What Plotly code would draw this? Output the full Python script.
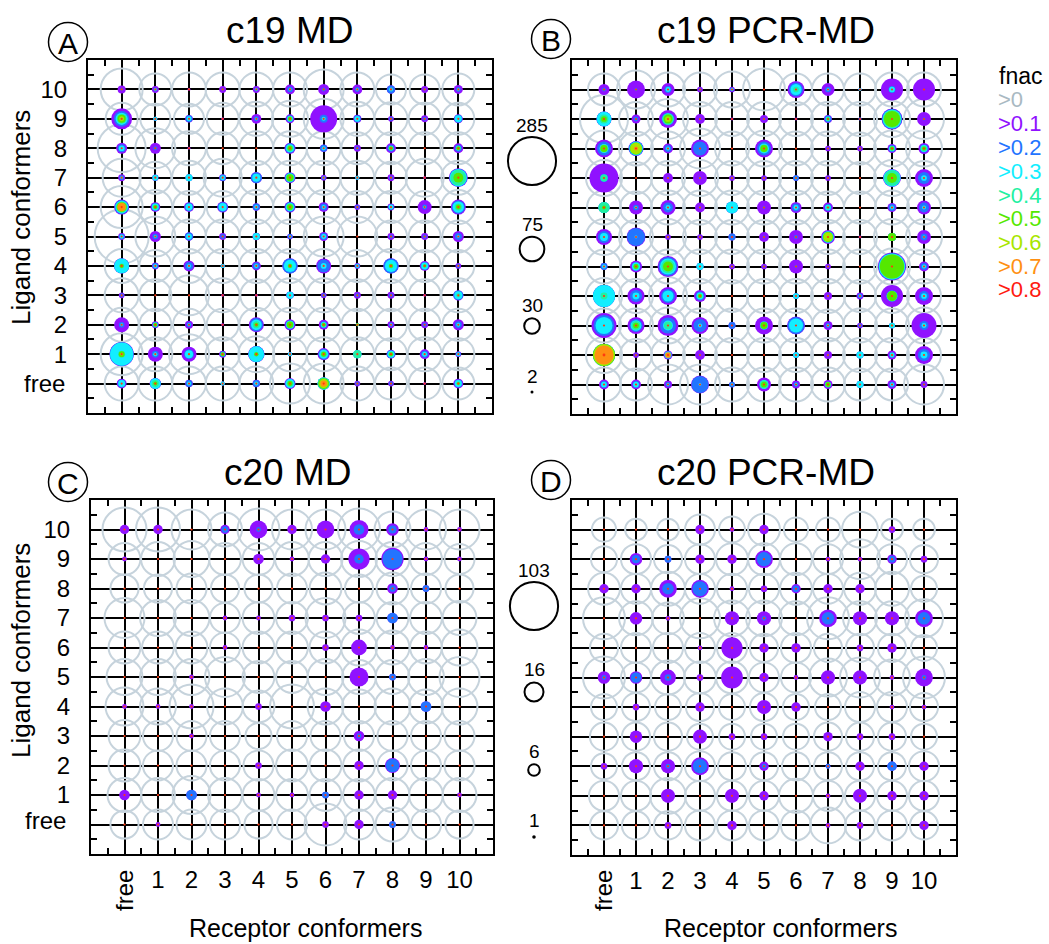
import numpy as np
import plotly.graph_objects as go

W, H = 1049, 944
FONT = "Liberation Sans, Arial, sans-serif"

receptor_labels = ["free"] + [str(i) for i in range(1, 11)]
ligand_labels = ["free"] + [str(i) for i in range(1, 11)]
row_ligand = list(range(10, -1, -1))  # matrix rows: ligand 10 ... free; columns: receptor free ... 10

fnac_labels = [">0", ">0.1", ">0.2", ">0.3", ">0.4", ">0.5", ">0.6", ">0.7", ">0.8"]
fnac_colors = ["#a9b9c2", "#9012ff", "#2374ff", "#12eeff", "#22f0a2", "#55e800", "#a8e600", "#ff9012", "#ff1a10"]
ring_color = "#c6d3dc"

panel_titles = ["c19 MD", "c19 PCR-MD", "c20 MD", "c20 PCR-MD"]
panel_letters = ["A", "B", "C", "D"]
size_legend_c19 = [285, 75, 30, 2]
size_legend_c20 = [103, 16, 6, 1]

# ---------------- c19 MD (counts of structures per fnac threshold) ----------------
c19md_gt0 = [
    [217, 126, 142, 142, 142, 142, 197, 142, 111, 111, 126],
    [126, 111, 111, 126, 142, 160, 197, 142, 134, 126, 126],
    [284, 197, 142, 126, 142, 142, 142, 126, 126, 126, 126],
    [178, 126, 142, 178, 142, 142, 142, 142, 126, 178, 142],
    [217, 142, 126, 126, 142, 142, 142, 126, 126, 126, 142],
    [359, 197, 142, 142, 142, 142, 197, 197, 126, 126, 126],
    [142, 126, 142, 142, 142, 142, 142, 126, 142, 126, 126],
    [142, 126, 197, 142, 126, 142, 142, 126, 126, 126, 142],
    [142, 126, 126, 126, 142, 142, 142, 126, 126, 126, 126],
    [217, 142, 197, 142, 160, 142, 142, 142, 126, 142, 126],
    [142, 142, 142, 142, 142, 197, 197, 142, 126, 126, 126],
]
c19md_gt01 = [
    [8, 6, 1, 6, 6, 12, 15, 12, 9, 6, 10],
    [54, 2, 7, 1, 12, 10, 90, 8, 4, 6, 10],
    [15, 15, 1, 0, 0, 15, 7, 6, 12, 0, 12],
    [6, 5, 6, 6, 16, 15, 4, 2, 6, 1, 44],
    [28, 12, 12, 15, 7, 15, 12, 4, 6, 24, 28],
    [6, 15, 9, 6, 7, 4, 10, 0, 6, 6, 15],
    [29, 6, 15, 2, 10, 29, 28, 4, 29, 12, 4],
    [4, 0, 0, 1, 1, 7, 4, 6, 6, 1, 13],
    [28, 6, 8, 1, 28, 15, 12, 1, 6, 6, 15],
    [72, 28, 28, 6, 33, 2, 18, 8, 10, 12, 4],
    [12, 16, 7, 2, 7, 15, 19, 4, 4, 1, 12],
]
c19md_gt02 = [
    [1, 2, 0, 1, 2, 4, 2, 3, 8, 1, 3],
    [30, 2, 6, 0, 3, 6, 8, 6, 2, 2, 8],
    [8, 2, 0, 0, 0, 12, 6, 2, 6, 0, 6],
    [3, 4, 6, 5, 15, 12, 2, 2, 2, 0, 40],
    [25, 8, 9, 12, 6, 12, 6, 2, 4, 3, 22],
    [4, 4, 8, 3, 6, 3, 6, 0, 2, 2, 6],
    [28, 4, 8, 2, 6, 28, 20, 3, 28, 8, 2],
    [2, 0, 0, 0, 0, 6, 2, 2, 2, 0, 12],
    [4, 4, 3, 0, 22, 10, 6, 1, 2, 2, 6],
    [70, 6, 12, 4, 32, 2, 14, 8, 8, 6, 3],
    [8, 15, 6, 2, 6, 12, 18, 2, 2, 0, 8],
]
c19md_gt03 = [
    [0, 1, 0, 0, 1, 1, 0, 1, 2, 0, 1],
    [18, 2, 3, 0, 1, 4, 2, 4, 0, 0, 6],
    [4, 0, 0, 0, 0, 8, 2, 0, 3, 0, 3],
    [1, 4, 6, 3, 8, 10, 1, 2, 0, 0, 36],
    [20, 6, 6, 8, 2, 9, 2, 0, 3, 1, 16],
    [2, 1, 4, 0, 6, 1, 3, 0, 0, 0, 1],
    [27, 2, 2, 2, 2, 18, 4, 2, 18, 6, 0],
    [0, 0, 0, 0, 0, 6, 0, 0, 0, 0, 8],
    [1, 3, 1, 0, 14, 8, 4, 1, 1, 0, 2],
    [66, 2, 8, 2, 30, 2, 10, 8, 6, 3, 2],
    [6, 14, 2, 2, 2, 10, 18, 0, 0, 0, 6],
]
c19md_gt04 = [
    [0, 0, 0, 0, 0, 0, 0, 0, 0, 0, 0],
    [12, 0, 0, 0, 0, 3, 0, 0, 0, 0, 0],
    [0, 0, 0, 0, 0, 5, 0, 0, 2, 0, 2],
    [0, 0, 0, 0, 0, 8, 0, 0, 0, 0, 30],
    [16, 3, 0, 0, 0, 6, 0, 0, 0, 0, 6],
    [0, 0, 0, 0, 0, 0, 0, 0, 0, 0, 0],
    [3, 0, 0, 0, 0, 3, 0, 0, 3, 2, 0],
    [0, 0, 0, 0, 0, 0, 0, 0, 0, 0, 2],
    [0, 2, 0, 0, 6, 6, 2, 1, 0, 0, 0],
    [6, 0, 0, 2, 3, 0, 4, 8, 3, 0, 0],
    [0, 6, 0, 0, 0, 5, 18, 0, 0, 0, 2],
]
c19md_gt05 = [
    [0, 0, 0, 0, 0, 0, 0, 0, 0, 0, 0],
    [8, 0, 0, 0, 0, 2, 0, 0, 0, 0, 0],
    [0, 0, 0, 0, 0, 3, 0, 0, 2, 0, 2],
    [0, 0, 0, 0, 0, 6, 0, 0, 0, 0, 12],
    [12, 2, 0, 0, 0, 4, 0, 0, 0, 0, 3],
    [0, 0, 0, 0, 0, 0, 0, 0, 0, 0, 0],
    [2, 0, 0, 0, 0, 2, 0, 0, 2, 1, 0],
    [0, 0, 0, 0, 0, 0, 0, 0, 0, 0, 0],
    [0, 2, 0, 0, 2, 5, 2, 1, 0, 0, 0],
    [4, 0, 0, 2, 2, 0, 3, 0, 2, 0, 0],
    [0, 2, 0, 0, 0, 3, 14, 0, 0, 0, 1],
]
# sparse levels: (ligand, receptor, count)
c19md_gt06 = [(9, 0, 3), (6, 0, 10), (1, 0, 1), (0, 6, 10)]
c19md_gt07 = [(6, 0, 8), (0, 6, 5)]
c19md_gt08 = []

# ---------------- c19 PCR-MD ----------------
c19pcr_gt0 = [
    [126, 178, 142, 142, 160, 217, 126, 126, 126, 142, 142],
    [284, 142, 197, 142, 142, 142, 142, 142, 142, 160, 197],
    [160, 142, 142, 197, 142, 160, 142, 142, 126, 160, 160],
    [160, 126, 142, 160, 142, 142, 142, 142, 126, 160, 142],
    [142, 126, 142, 142, 142, 142, 142, 126, 126, 142, 142],
    [160, 142, 160, 142, 142, 142, 142, 142, 142, 160, 160],
    [142, 126, 142, 142, 142, 142, 142, 142, 142, 160, 142],
    [160, 142, 178, 142, 126, 142, 142, 142, 126, 142, 142],
    [142, 142, 160, 142, 142, 142, 142, 126, 142, 142, 160],
    [160, 126, 142, 142, 142, 142, 142, 142, 142, 142, 142],
    [142, 126, 197, 197, 142, 142, 142, 142, 126, 126, 197],
]
c19pcr_gt01 = [
    [15, 40, 21, 4, 4, 0, 36, 21, 1, 60, 60],
    [28, 10, 40, 12, 1, 8, 1, 8, 1, 54, 24],
    [40, 28, 12, 40, 0, 40, 0, 4, 4, 10, 15],
    [104, 0, 12, 24, 4, 4, 4, 4, 0, 40, 40],
    [15, 24, 28, 12, 18, 24, 15, 12, 0, 10, 24],
    [32, 44, 4, 4, 6, 12, 24, 24, 1, 8, 24],
    [6, 18, 54, 6, 4, 4, 24, 4, 0, 97, 12],
    [60, 36, 40, 18, 0, 0, 4, 8, 6, 60, 40],
    [77, 36, 54, 36, 6, 40, 40, 10, 4, 4, 77],
    [60, 4, 10, 12, 0, 0, 4, 8, 6, 10, 40],
    [12, 12, 8, 40, 4, 24, 8, 10, 6, 10, 6],
]
c19pcr_gt02 = [
    [2, 1, 6, 1, 2, 0, 24, 4, 1, 6, 0],
    [28, 3, 20, 1, 0, 1, 0, 6, 1, 50, 1],
    [24, 26, 6, 24, 0, 24, 0, 1, 1, 6, 8],
    [8, 0, 1, 1, 1, 1, 4, 1, 0, 36, 18],
    [15, 4, 12, 1, 18, 1, 8, 6, 0, 6, 12],
    [18, 40, 1, 1, 6, 1, 2, 18, 0, 8, 6],
    [6, 10, 44, 6, 1, 1, 1, 1, 0, 90, 6],
    [60, 18, 24, 10, 0, 0, 4, 1, 3, 16, 12],
    [54, 21, 32, 21, 6, 8, 36, 3, 2, 4, 10],
    [60, 1, 6, 1, 0, 0, 4, 1, 6, 4, 18],
    [6, 6, 3, 36, 4, 10, 3, 4, 6, 4, 1],
]
c19pcr_gt03 = [
    [0, 0, 3, 0, 1, 0, 15, 1, 1, 4, 0],
    [26, 0, 16, 0, 0, 0, 0, 3, 0, 44, 0],
    [10, 22, 2, 0, 0, 12, 0, 0, 0, 4, 6],
    [6, 0, 0, 0, 0, 0, 1, 0, 0, 36, 4],
    [15, 1, 3, 0, 18, 0, 3, 4, 0, 2, 2],
    [8, 1, 0, 0, 0, 0, 0, 16, 0, 8, 1],
    [2, 8, 32, 6, 0, 0, 0, 0, 0, 84, 2],
    [60, 6, 15, 6, 0, 0, 4, 0, 1, 14, 4],
    [36, 14, 12, 2, 0, 8, 24, 1, 0, 4, 3],
    [60, 0, 6, 0, 0, 0, 4, 0, 6, 3, 6],
    [4, 4, 1, 1, 1, 10, 1, 4, 6, 2, 0],
]
c19pcr_gt04 = [
    [0, 0, 0, 0, 0, 0, 4, 0, 0, 0, 0],
    [10, 0, 15, 0, 0, 0, 0, 2, 0, 40, 0],
    [8, 20, 0, 0, 0, 8, 0, 0, 0, 3, 4],
    [6, 0, 0, 0, 0, 0, 0, 0, 0, 30, 0],
    [15, 0, 0, 0, 0, 0, 0, 2, 0, 0, 0],
    [0, 0, 0, 0, 0, 0, 0, 14, 0, 8, 0],
    [0, 4, 22, 0, 0, 0, 0, 0, 0, 76, 0],
    [6, 0, 0, 3, 0, 0, 0, 0, 0, 14, 0],
    [0, 10, 8, 0, 0, 6, 0, 0, 0, 1, 0],
    [60, 0, 0, 0, 0, 0, 0, 0, 0, 1, 0],
    [0, 0, 0, 0, 0, 8, 0, 4, 0, 0, 0],
]
c19pcr_gt05 = [
    [0, 0, 0, 0, 0, 0, 0, 0, 0, 0, 0],
    [4, 0, 10, 0, 0, 0, 0, 1, 0, 32, 0],
    [6, 18, 0, 0, 0, 6, 0, 0, 0, 2, 2],
    [0, 0, 0, 0, 0, 0, 0, 0, 0, 12, 0],
    [2, 0, 0, 0, 0, 0, 0, 0, 0, 0, 0],
    [0, 0, 0, 0, 0, 0, 0, 12, 0, 8, 0],
    [0, 3, 12, 0, 0, 0, 0, 0, 0, 72, 0],
    [0, 0, 0, 2, 0, 0, 0, 0, 0, 12, 0],
    [0, 4, 0, 0, 0, 6, 0, 0, 0, 0, 0],
    [60, 0, 0, 0, 0, 0, 0, 0, 0, 0, 0],
    [0, 0, 0, 0, 0, 4, 0, 3, 0, 0, 0],
]
c19pcr_gt06 = [(9, 2, 4), (8, 1, 16), (5, 7, 10), (1, 0, 56)]
c19pcr_gt07 = [(8, 1, 2), (1, 0, 44), (1, 2, 4)]
c19pcr_gt08 = [(1, 0, 1)]

# ---------------- c20 MD ----------------
c20md_gt0 = [
    [86, 86, 71, 51, 78, 71, 71, 78, 57, 71, 71],
    [45, 51, 57, 45, 45, 51, 51, 57, 51, 45, 40],
    [35, 35, 40, 35, 35, 40, 45, 35, 45, 40, 35],
    [71, 57, 57, 40, 45, 45, 71, 45, 45, 45, 51],
    [45, 45, 45, 40, 45, 45, 45, 57, 51, 45, 57],
    [57, 57, 57, 71, 45, 45, 57, 51, 51, 57, 71],
    [64, 57, 86, 57, 45, 86, 57, 51, 57, 51, 57],
    [45, 40, 40, 40, 30, 40, 40, 40, 40, 40, 40],
    [45, 40, 40, 40, 40, 45, 45, 45, 40, 40, 40],
    [51, 51, 64, 51, 45, 45, 45, 45, 51, 51, 51],
    [35, 40, 40, 40, 35, 40, 78, 40, 51, 40, 35],
]
c20md_gt01 = [
    [4, 4, 0, 4, 14, 4, 14, 16, 7, 1, 1],
    [1, 0, 0, 0, 5, 1, 4, 20, 22, 1, 1],
    [0, 0, 0, 0, 0, 0, 0, 0, 5, 2, 0],
    [0, 0, 0, 1, 1, 2, 2, 2, 5, 0, 0],
    [0, 0, 0, 1, 0, 0, 2, 11, 1, 1, 0],
    [0, 0, 1, 0, 0, 0, 0, 16, 2, 0, 0],
    [1, 1, 1, 0, 2, 0, 5, 0, 0, 5, 0],
    [0, 0, 1, 0, 0, 0, 0, 5, 0, 0, 0],
    [0, 0, 0, 0, 2, 0, 0, 4, 10, 0, 0],
    [5, 0, 5, 0, 1, 1, 2, 4, 4, 0, 1],
    [0, 1, 0, 0, 0, 0, 2, 4, 2, 0, 0],
]
c20md_gt02 = [
    [0, 0, 0, 2, 1, 0, 0, 5, 3, 0, 0],
    [0, 0, 0, 0, 0, 0, 0, 4, 18, 0, 0],
    [0, 0, 0, 0, 0, 0, 0, 0, 2, 2, 0],
    [0, 0, 0, 0, 0, 0, 0, 0, 5, 0, 0],
    [0, 0, 0, 0, 0, 0, 0, 0, 0, 0, 0],
    [0, 0, 0, 0, 0, 0, 0, 0, 2, 0, 0],
    [0, 0, 0, 0, 0, 0, 0, 0, 0, 5, 0],
    [0, 0, 0, 0, 0, 0, 0, 1, 0, 0, 0],
    [0, 0, 0, 0, 0, 0, 0, 0, 8, 0, 0],
    [0, 0, 5, 0, 0, 0, 2, 0, 0, 0, 0],
    [0, 0, 0, 0, 0, 0, 0, 0, 2, 0, 0],
]

# ---------------- c20 PCR-MD ----------------
c20pcr_gt0 = [
    [26, 21, 21, 40, 30, 45, 26, 26, 57, 21, 21],
    [30, 40, 35, 40, 45, 45, 45, 40, 71, 40, 35],
    [45, 40, 51, 40, 40, 40, 45, 40, 45, 51, 30],
    [78, 51, 45, 71, 57, 57, 51, 78, 51, 51, 64],
    [35, 40, 40, 40, 40, 35, 40, 35, 35, 35, 30],
    [78, 40, 51, 45, 45, 40, 40, 64, 71, 57, 78],
    [30, 35, 30, 35, 30, 35, 30, 30, 40, 40, 35],
    [35, 35, 35, 30, 30, 30, 30, 35, 35, 35, 30],
    [30, 35, 35, 40, 35, 35, 35, 35, 35, 35, 40],
    [40, 40, 57, 40, 40, 40, 51, 40, 40, 40, 40],
    [35, 35, 35, 40, 40, 40, 40, 57, 40, 40, 35],
]
c20pcr_gt01 = [
    [0, 0, 0, 4, 1, 4, 0, 0, 0, 2, 0],
    [0, 7, 2, 4, 4, 14, 0, 1, 1, 4, 2],
    [4, 4, 14, 14, 1, 2, 4, 4, 4, 0, 0],
    [0, 7, 1, 0, 9, 9, 0, 14, 9, 9, 14],
    [0, 0, 0, 1, 20, 4, 4, 0, 2, 4, 0],
    [7, 7, 11, 2, 21, 4, 1, 9, 9, 1, 14],
    [0, 2, 0, 4, 0, 9, 4, 0, 0, 1, 1],
    [0, 7, 0, 9, 2, 2, 0, 4, 2, 2, 0],
    [2, 9, 9, 14, 0, 4, 0, 1, 4, 4, 4],
    [0, 0, 9, 0, 9, 4, 0, 1, 9, 4, 4],
    [0, 0, 2, 0, 4, 0, 0, 1, 2, 0, 4],
]
c20pcr_gt02 = [
    [0, 0, 0, 0, 0, 0, 0, 0, 0, 0, 0],
    [0, 3, 2, 0, 0, 9, 0, 0, 0, 2, 0],
    [0, 0, 6, 10, 0, 0, 2, 0, 0, 0, 0],
    [0, 0, 0, 0, 0, 1, 0, 7, 0, 0, 7],
    [0, 0, 0, 0, 0, 0, 0, 0, 0, 0, 0],
    [1, 5, 2, 0, 0, 0, 0, 0, 0, 0, 1],
    [0, 0, 0, 0, 0, 0, 0, 0, 0, 0, 0],
    [0, 0, 0, 0, 0, 0, 0, 0, 0, 0, 0],
    [0, 0, 1, 9, 0, 1, 0, 1, 0, 4, 0],
    [0, 0, 0, 0, 0, 0, 0, 0, 0, 0, 0],
    [0, 0, 0, 0, 0, 0, 0, 0, 0, 0, 0],
]

# ---------------- helpers ----------------
def sparse(entries):
    M = np.zeros((11, 11))
    for lig, rec, n in entries:
        M[10 - lig, rec] = n
    return M


def px_x(p):
    return p / W


def px_y(p):
    return 1 - p / H


fig = go.Figure()


def add_level(M, k, color, xa, ya, outline=False, minsize=0.0):
    M = np.asarray(M, dtype=float)
    xs, ys, ss = [], [], []
    for r, lig in enumerate(row_ligand):
        for c in range(11):
            s = k * np.sqrt(M[r, c])
            if minsize:
                s = max(s, minsize)
            if s <= 0:
                continue
            xs.append(c)
            ys.append(lig)
            ss.append(s)
    if outline:
        marker = dict(size=ss, color="rgba(0,0,0,0)", opacity=1,
                      line=dict(width=2, color=color))
    else:
        marker = dict(size=ss, color=color, opacity=1, line=dict(width=0))
    fig.add_trace(go.Scatter(x=xs, y=ys, mode="markers", marker=marker,
                             xaxis=xa, yaxis=ya, hoverinfo="skip", showlegend=False))


K19 = 2.85  # px per sqrt(count)
K20 = 4.75

panels = [
    ("x", "y", K19, [c19md_gt0, c19md_gt01, c19md_gt02, c19md_gt03, c19md_gt04, c19md_gt05,
                     sparse(c19md_gt06), sparse(c19md_gt07), sparse(c19md_gt08)]),
    ("x2", "y2", K19, [c19pcr_gt0, c19pcr_gt01, c19pcr_gt02, c19pcr_gt03, c19pcr_gt04, c19pcr_gt05,
                       sparse(c19pcr_gt06), sparse(c19pcr_gt07), sparse(c19pcr_gt08)]),
    ("x3", "y3", K20, [c20md_gt0, c20md_gt01, c20md_gt02, None, None, None, None, None, sparse([])]),
    ("x4", "y4", K20, [c20pcr_gt0, c20pcr_gt01, c20pcr_gt02, None, None, None, None, None, sparse([])]),
]

for xa, ya, k, mats in panels:
    for lvl, M in enumerate(mats):
        if M is None:
            continue
        if lvl == 0:
            add_level(M, k, ring_color, xa, ya, outline=True)
        elif lvl == 8:
            add_level(M, k, "#ff3a10", xa, ya, minsize=2.2)
        else:
            add_level(M, k, fnac_colors[lvl], xa, ya)

# ---------------- axes ----------------
domains = [
    ([88, 492], [60, 413]),
    ([572, 956], [60, 414]),
    ([91, 493], [500, 854]),
    ([572, 956], [500, 855]),
]
half = [i - 0.5 for i in range(12)]


def axis(dom, is_x, show_labels, anchor):
    if is_x:
        d = [px_x(dom[0]), px_x(dom[1])]
    else:
        d = [px_y(dom[1]), px_y(dom[0])]
    return dict(
        domain=d, anchor=anchor, range=[-1, 11], fixedrange=True,
        tickmode="array", tickvals=list(range(11)),
        ticktext=[""] + [str(i) for i in range(1, 11)],
        showticklabels=show_labels, ticks="",
        tickfont=dict(family=FONT, size=24, color="black"),
        ticklabelstandoff=3 if is_x else 14,
        showgrid=True, gridcolor="black", gridwidth=2,
        zeroline=True, zerolinecolor="black", zerolinewidth=2,
        showline=True, linecolor="black", linewidth=2, mirror="ticks",
        minor=dict(tickmode="array", tickvals=half, ticks="inside", ticklen=6,
                   tickwidth=1.5, tickcolor="black", showgrid=False),
    )


layout_axes = {}
names = [("xaxis", "yaxis", "x", "y"), ("xaxis2", "yaxis2", "x2", "y2"),
         ("xaxis3", "yaxis3", "x3", "y3"), ("xaxis4", "yaxis4", "x4", "y4")]
for i, (xn, yn, xr, yr) in enumerate(names):
    xd, yd = domains[i]
    layout_axes[xn] = axis(xd, True, i >= 2, yr)
    layout_axes[yn] = axis(yd, False, i in (0, 2), xr)

# size-legend axis (pixel coordinates over whole figure)
layout_axes["xaxis5"] = dict(domain=[0, 1], range=[0, W], visible=False, anchor="y5", fixedrange=True)
layout_axes["yaxis5"] = dict(domain=[0, 1], range=[H, 0], visible=False, anchor="x5", fixedrange=True)

fig.update_layout(**layout_axes)

annotations = []
shapes = []

# size legends
leg_sets = [
    (size_legend_c19, K19, [161, 249, 326, 392], [125, 224, 305, 376], 532),
    (size_legend_c20, K20, [606, 692, 770, 837], [570, 669, 751, 820], 534),
]
for counts, k, cy, ty, cx in leg_sets:
    sizes = [k * np.sqrt(c) for c in counts]
    # open rings for the larger counts
    fig.add_trace(go.Scatter(
        x=[cx] * (len(counts) - 1), y=cy[:-1], mode="markers",
        marker=dict(size=sizes[:-1], color="rgba(0,0,0,0)", opacity=1,
                    line=dict(width=2, color="black")),
        xaxis="x5", yaxis="y5", hoverinfo="skip", showlegend=False))
    # smallest count drawn as a filled dot
    fig.add_trace(go.Scatter(
        x=[cx], y=cy[-1:], mode="markers",
        marker=dict(size=[max(sizes[-1] * 0.75, 3)], color="black", opacity=1, line=dict(width=0)),
        xaxis="x5", yaxis="y5", hoverinfo="skip", showlegend=False))
    for c, t in zip(counts, ty):
        annotations.append(dict(x=px_x(cx), y=px_y(t), xref="paper", yref="paper", text=str(c),
                                showarrow=False, font=dict(family=FONT, size=19, color="black"),
                                xanchor="center", yanchor="middle"))

# fnac colour legend
annotations.append(dict(x=px_x(997), y=px_y(76), xref="paper", yref="paper", text="fnac",
                        showarrow=False, font=dict(family=FONT, size=23, color="black"),
                        xanchor="left", yanchor="middle"))
for i, (lab, col) in enumerate(zip(fnac_labels, fnac_colors)):
    annotations.append(dict(x=px_x(996), y=px_y(100 + 23.75 * i), xref="paper", yref="paper",
                            text=lab, showarrow=False, font=dict(family=FONT, size=22, color=col),
                            xanchor="left", yanchor="middle"))

# titles and circled letters
title_pos = [(289, 31), (766, 31), (287, 472), (766, 472)]
letter_pos = [(68, 42), (551, 39), (68, 482), (551, 480)]
for t, (tx, tyy), L, (lx, ly) in zip(panel_titles, title_pos, panel_letters, letter_pos):
    annotations.append(dict(x=px_x(tx), y=px_y(tyy), xref="paper", yref="paper", text=t,
                            showarrow=False, font=dict(family=FONT, size=37, color="black"),
                            xanchor="center", yanchor="middle"))
    r = 19.5
    shapes.append(dict(type="circle", xref="paper", yref="paper",
                       x0=px_x(lx - r), x1=px_x(lx + r), y0=px_y(ly + r), y1=px_y(ly - r),
                       line=dict(color="black", width=1.5)))
    annotations.append(dict(x=px_x(lx), y=px_y(ly + 1), xref="paper", yref="paper", text=L,
                            showarrow=False, font=dict(family=FONT, size=30, color="black"),
                            xanchor="center", yanchor="middle"))

# axis titles
for yy in (218, 651):
    annotations.append(dict(x=px_x(21), y=px_y(yy), xref="paper", yref="paper",
                            text="Ligand conformers", textangle=-90, showarrow=False,
                            font=dict(family=FONT, size=26, color="black"),
                            xanchor="center", yanchor="middle"))
for xx in (305, 780):
    annotations.append(dict(x=px_x(xx), y=px_y(928), xref="paper", yref="paper",
                            text="Receptor conformers", showarrow=False,
                            font=dict(family=FONT, size=25, color="black"),
                            xanchor="center", yanchor="middle"))

# "free" tick labels
for fx, fy in ((44, 383), (45, 820)):
    annotations.append(dict(x=px_x(fx), y=px_y(fy), xref="paper", yref="paper",
                            text=ligand_labels[0], showarrow=False,
                            font=dict(family=FONT, size=24, color="black"),
                            xanchor="center", yanchor="middle"))
for fx in (124, 603):
    annotations.append(dict(x=px_x(fx), y=px_y(891), xref="paper", yref="paper",
                            text=receptor_labels[0], textangle=-90, showarrow=False,
                            font=dict(family=FONT, size=24, color="black"),
                            xanchor="center", yanchor="middle"))

fig.update_layout(
    width=W, height=H, autosize=False,
    margin=dict(l=0, r=0, t=0, b=0),
    paper_bgcolor="white", plot_bgcolor="rgba(0,0,0,0)",
    annotations=annotations, shapes=shapes,
    font=dict(family=FONT, color="black"),
)

fig.write_html("out.html")
